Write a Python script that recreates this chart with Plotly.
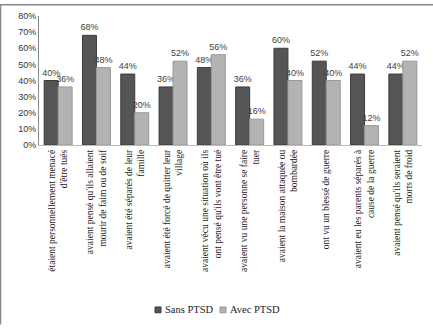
import plotly.graph_objects as go

categories = [
    "étaient personnellement menacé<br>d'être tués",
    "avaient pensé qu'ils allaient<br>mourir de faim ou de soif",
    "avaient été séparés de leur<br>famille",
    "avaient été forcé de quitter leur<br>village",
    "avaient vécu une situation où ils<br>ont pensé qu'ils vont être tué",
    "avaient vu une personne se faire<br>tuer",
    "avaient la maison attaquée ou<br>bombardée",
    "ont vu un blessé de guerre",
    "avaient eu les parents séparés à<br>cause de la guerre",
    "avaient pensé qu'ils seraient<br>morts de froid",
]
sans_ptsd = [40, 68, 44, 36, 48, 36, 60, 52, 44, 44]
avec_ptsd = [36, 48, 20, 52, 56, 16, 40, 40, 12, 52]
series_names = ["Sans PTSD", "Avec PTSD"]

dark = "#555555"
light = "#b3b3b3"
edges = ["#3c3c3c", "#989898"]

W, H = 433, 330
ml, mr, mt, mb = 39, 11, 12, 185
pw, ph = W - ml - mr, H - mt - mb


def px(x):
    return (x - ml) / pw


def py(y):
    return (mt + ph - y) / ph


fig = go.Figure()
for name, vals, col, edge in zip(series_names, [sans_ptsd, avec_ptsd], [dark, light], edges):
    fig.add_trace(go.Bar(
        x=categories, y=[v / 100 for v in vals], name=name,
        marker=dict(color=col, line=dict(color=edge, width=1)),
        text=[f"{v}%" for v in vals], textposition="outside",
        textfont=dict(family="Liberation Sans", size=9, color="#404040"),
        constraintext="none", cliponaxis=False, showlegend=False,
    ))

# compact legend: small swatch followed closely by its label
shapes = []
annotations = []
legend_x = [155, 220]
for i, (name, col, edge) in enumerate(zip(series_names, [dark, light], edges)):
    x0 = legend_x[i]
    shapes.append(dict(type="rect", xref="paper", yref="paper",
                       x0=px(x0), x1=px(x0 + 6), y0=py(318), y1=py(312),
                       fillcolor=col, line=dict(color=edge, width=1)))
    annotations.append(dict(text=name, xref="paper", yref="paper",
                            x=px(x0 + 8), y=py(315), xanchor="left", yanchor="middle",
                            showarrow=False,
                            font=dict(family="Liberation Serif", size=10.5, color="#222222")))

# frame along the top and left edges of the figure
shapes += [
    dict(type="line", xref="paper", yref="paper",
         x0=px(0), x1=px(W), y0=py(0.5), y1=py(0.5),
         line=dict(color="#888888", width=1.5)),
    dict(type="line", xref="paper", yref="paper",
         x0=px(0.5), x1=px(0.5), y0=py(H), y1=py(0),
         line=dict(color="#888888", width=1.5)),
]

fig.update_layout(
    width=W, height=H,
    margin=dict(l=ml, r=mr, t=mt, b=mb),
    paper_bgcolor="white", plot_bgcolor="white",
    barmode="group", bargap=0.27, bargroupgap=0,
    showlegend=False,
    font=dict(family="Liberation Serif", color="#222222"),
    xaxis=dict(
        tickangle=-90, tickfont=dict(family="Liberation Serif", size=9.5, color="#222222"),
        showline=True, linecolor="#bbbbbb", linewidth=1, ticks="",
        showgrid=False,
    ),
    yaxis=dict(
        range=[0, 0.8], dtick=0.1, tickformat=".0%",
        tickfont=dict(family="Liberation Sans", size=9, color="#333333"),
        showline=True, linecolor="#888888", linewidth=1,
        showgrid=False, zeroline=False, ticks="",
    ),
    shapes=shapes,
    annotations=annotations,
)

fig.write_html("out.html")
